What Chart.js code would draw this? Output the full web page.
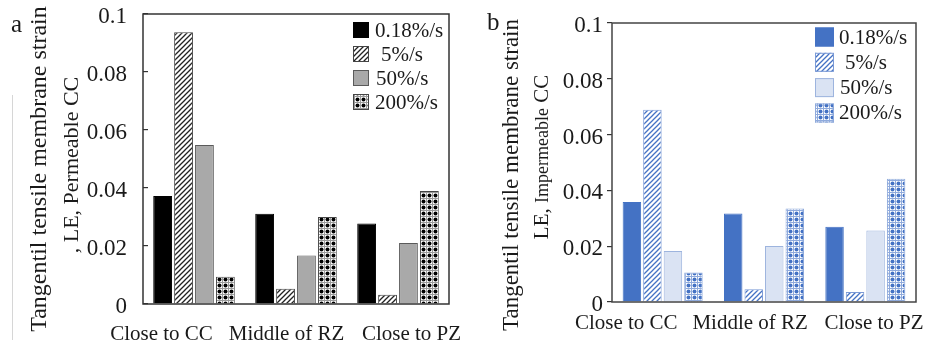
<!DOCTYPE html>
<html>
<head>
<meta charset="utf-8">
<script src="https://cdn.jsdelivr.net/npm/chart.js@4.4.1/dist/chart.umd.min.js"></script>
<style>
  html, body { margin: 0; padding: 0; background: #fff; }
  #wrap { position: relative; width: 927px; height: 343px; }
  canvas { position: absolute; top: 0; }
  #chartA { left: 0; }
  #chartB { left: 463px; }
</style>
</head>
<body>
<div id="wrap">
  <canvas id="chartA" width="463" height="343"></canvas>
  <canvas id="chartB" width="464" height="343"></canvas>
</div>
<script>
const zones = ['Close to CC', 'Middle of RZ', 'Close to PZ'];
const rates = ['0.18%/s', '5%/s', '50%/s', '200%/s'];
const yTicks = [0, 0.02, 0.04, 0.06, 0.08, 0.1];

// a: permeable CC
const permeable018 = [0.0372, 0.0311, 0.0278];
const permeable5 = [0.0937, 0.0053, 0.0032];
const permeable50 = [0.0548, 0.0167, 0.0210];
const permeable200 = [0.0094, 0.0300, 0.0390];

// b: impermeable CC
const impermeable018 = [0.0358, 0.0317, 0.0270];
const impermeable5 = [0.0689, 0.0046, 0.0036];
const impermeable50 = [0.0183, 0.0201, 0.0256];
const impermeable200 = [0.0106, 0.0335, 0.0442];

const SERIF = '"Liberation Serif", "Times New Roman", serif';
const INK = '#1a1a1a';

// diagonal "/" stripes
function hatch(color, bg) {
    const s = 5;
    const c = document.createElement('canvas');
    c.width = c.height = s;
    const g = c.getContext('2d');
    g.fillStyle = bg;
    g.fillRect(0, 0, s, s);
    g.strokeStyle = color;
    g.lineWidth = 1.3;
    g.beginPath();
    g.moveTo(-1, s + 1); g.lineTo(s + 1, -1);
    g.moveTo(-1, 1); g.lineTo(1, -1);
    g.moveTo(s - 1, s + 1); g.lineTo(s + 1, s - 1);
    g.stroke();
    return g.createPattern(c, 'repeat');
}

// dot grid
function dots(color, line, bg) {
    const s = 6;
    const c = document.createElement('canvas');
    c.width = c.height = s;
    const g = c.getContext('2d');
    g.fillStyle = bg;
    g.fillRect(0, 0, s, s);
    g.strokeStyle = line;
    g.lineWidth = 1;
    g.beginPath();
    g.moveTo(0, 0.5); g.lineTo(s, 0.5);
    g.moveTo(0.5, 0); g.lineTo(0.5, s);
    g.stroke();
    g.fillStyle = color;
    g.beginPath();
    g.arc(3.5, 3.5, 2, 0, Math.PI * 2);
    g.fill();
    return g.createPattern(c, 'repeat');
}

// frame, legend, rotated axis title, panel letter
const decor = {
    id: 'decor',
    afterDraw(chart, args, o) {
        const { ctx, chartArea: a } = chart;
        ctx.save();

        ctx.strokeStyle = o.frame;
        ctx.lineWidth = 1.5;
        ctx.strokeRect(a.left, a.top, a.right - a.left, a.bottom - a.top);

        // legend in the upper right corner
        const lg = o.legend;
        chart.data.datasets.forEach((ds, i) => {
            const x = a.right - lg.right;
            const y = a.top + lg.top + i * lg.gap;
            ctx.fillStyle = ds.backgroundColor;
            ctx.fillRect(x, y - lg.box / 2, lg.box, lg.box);
            ctx.strokeStyle = ds.borderColor;
            ctx.lineWidth = 1;
            ctx.strokeRect(x + 0.5, y - lg.box / 2 + 0.5, lg.box - 1, lg.box - 1);
            ctx.fillStyle = INK;
            ctx.font = '21px ' + SERIF;
            ctx.textBaseline = 'middle';
            ctx.textAlign = 'left';
            ctx.fillText(ds.label, x + lg.box + lg.pad + (lg.shift[i] || 0), y + 1);
        });

        // y title, bottom-to-top
        ctx.fillStyle = INK;
        ctx.textBaseline = 'alphabetic';
        ctx.textAlign = 'left';
        o.title.forEach(line => {
            let total = 0;
            line.parts.forEach(([t, size]) => {
                ctx.font = size + 'px ' + SERIF;
                total += ctx.measureText(t).width;
            });
            ctx.save();
            ctx.translate(line.x, line.y);
            ctx.rotate(-Math.PI / 2);
            let cx = -total / 2;
            line.parts.forEach(([t, size]) => {
                ctx.font = size + 'px ' + SERIF;
                ctx.fillText(t, cx, 7);
                cx += ctx.measureText(t).width;
            });
            ctx.restore();
        });

        ctx.font = '25px ' + SERIF;
        ctx.fillText(o.letter.text, o.letter.x, o.letter.y);

        if (o.rule) {
            ctx.strokeStyle = '#d6d6d6';
            ctx.lineWidth = 1;
            ctx.beginPath();
            ctx.moveTo(o.rule.x, o.rule.y1);
            ctx.lineTo(o.rule.x, o.rule.y2);
            ctx.stroke();
        }
        ctx.restore();
    }
};

function makeChart(id, values, styles, cfg) {
    return new Chart(document.getElementById(id), {
        type: 'bar',
        data: {
            labels: zones,
            datasets: rates.map((r, i) => ({
                label: r,
                data: values[i],
                xAxisID: 'x',
                backgroundColor: styles[i].bg,
                borderColor: styles[i].border,
                borderWidth: 1,
                categoryPercentage: cfg.catPct,
                barPercentage: 0.9
            }))
        },
        options: {
            responsive: false,
            animation: false,
            events: [],
            layout: { autoPadding: false, padding: { top: cfg.top, right: cfg.right, left: 0, bottom: 0 } },
            scales: {
                x: { type: 'category', display: false },
                // label axis: zone names sit a little wider than the bar groups
                xl: {
                    type: 'linear',
                    position: 'bottom',
                    offset: false,
                    bounds: 'data',
                    min: cfg.labelMin,
                    max: cfg.labelMax,
                    grid: { display: false, drawTicks: false, offset: false },
                    border: { display: false },
                    afterBuildTicks: s => { s.ticks = zones.map((z, i) => ({ value: i })); },
                    afterFit: s => {
                        s.height = cfg.bottom;
                        // labels may overhang the plot edge; keep the plot area fixed
                        s.paddingLeft = 0;
                        s.paddingRight = 0;
                    },
                    ticks: {
                        autoSkip: false, minRotation: 0, maxRotation: 0,
                        padding: cfg.labelPad,
                        color: INK,
                        font: { family: SERIF, size: 21 },
                        callback: v => zones[v]
                    }
                },
                y: {
                    min: 0,
                    max: 0.1,
                    afterBuildTicks: s => { s.ticks = yTicks.map(v => ({ value: v })); },
                    afterFit: s => { s.width = cfg.left; s.paddingTop = 0; s.paddingBottom = 0; },
                    border: { display: false },
                    grid: {
                        drawOnChartArea: false,
                        drawTicks: true,
                        tickLength: cfg.tick,
                        color: '#333',
                        lineWidth: 1.2
                    },
                    ticks: {
                        padding: cfg.tickPad,
                        labelOffset: 3,
                        color: INK,
                        font: { family: SERIF, size: 23 },
                        callback: v => String(v)
                    }
                }
            },
            plugins: {
                legend: { display: false },
                tooltip: { enabled: false },
                decor: cfg.decor
            }
        },
        plugins: [decor]
    });
}

makeChart('chartA',
    [permeable018, permeable5, permeable50, permeable200],
    [
        { bg: '#000000', border: '#000000' },
        { bg: hatch('#222222', '#ffffff'), border: '#444444' },
        { bg: '#a9a9a9', border: '#5a5a5a' },
        { bg: dots('#000000', '#9a9a9a', '#ffffff'), border: '#444444' }
    ],
    {
        top: 14, right: 14, left: 143, bottom: 39,
        catPct: 0.82, labelMin: -0.148, labelMax: 2.3, labelPad: 18,
        tick: -5, tickPad: 21,
        decor: {
            frame: '#333333',
            legend: { right: 96, top: 16, gap: 24, box: 16, pad: 6, shift: [0, 6, 1, 0] },
            title: [
                { x: 39, y: 169, parts: [['Tangentil tensile membrane strain', 24]] },
                { x: 71, y: 165, parts: [[', LE, Permeable CC', 22]] }
            ],
            letter: { text: 'a', x: 11, y: 32 },
            rule: { x: 12.5, y1: 95, y2: 340 }
        }
    });

makeChart('chartB',
    [impermeable018, impermeable5, impermeable50, impermeable200],
    [
        { bg: '#4472c4', border: '#4472c4' },
        { bg: hatch('#4472c4', '#ffffff'), border: '#7b9ad6' },
        { bg: '#dae3f3', border: '#9db4de' },
        { bg: dots('#4472c4', '#8faadc', '#ffffff'), border: '#8faadc' }
    ],
    {
        top: 23, right: 11, left: 149, bottom: 41,
        catPct: 0.81, labelMin: -0.115, labelMax: 2.339, labelPad: 9,
        tick: 5, tickPad: 4,
        decor: {
            frame: '#444444',
            legend: { right: 101, top: 14, gap: 25.3, box: 19, pad: 5, shift: [0, 6, 1, 0] },
            title: [
                { x: 48, y: 175, parts: [['Tangentil tensile membrane strain', 23]] },
                { x: 78, y: 157, parts: [['LE, ', 21], ['Impermeable', 18], [' CC', 21]] }
            ],
            letter: { text: 'b', x: 24, y: 30 }
        }
    });
</script>
</body>
</html>
